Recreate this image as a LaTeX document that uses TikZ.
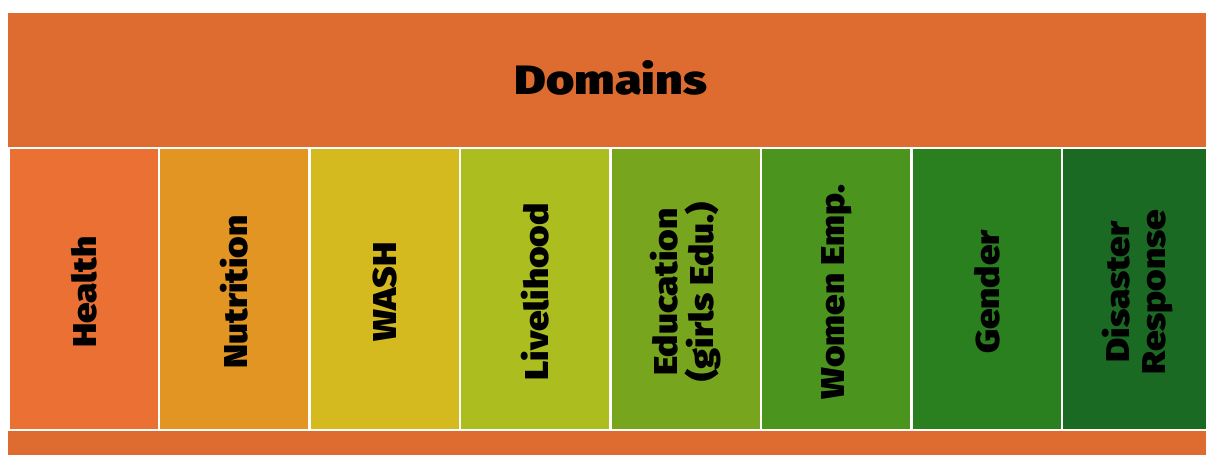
\documentclass[tikz,border=0pt]{standalone}
\usepackage{fontspec}
\setmainfont{Fira Sans}[BoldFont={Fira Sans Black}]
\newfontfamily\widefont{Fira Sans Black}[FakeStretch=1.18]
\newfontfamily\colfont{Fira Sans Black}[FakeStretch=1.12]
\definecolor{topor}{HTML}{DE6C30}
\definecolor{cA}{HTML}{EA7133}
\definecolor{cB}{HTML}{E29522}
\definecolor{cC}{HTML}{D4B91F}
\definecolor{cD}{HTML}{ACBD1F}
\definecolor{cE}{HTML}{78A51E}
\definecolor{cF}{HTML}{4B951F}
\definecolor{cG}{HTML}{2A7F1E}
\definecolor{cH}{HTML}{1B6A24}
\begin{document}
\begin{tikzpicture}[x=1pt,y=-1pt,
  col/.style={draw=white,line width=2.5pt,anchor=north west,minimum width=150.5pt,minimum height=282pt,inner sep=0pt,outer sep=0pt},
  lab/.style={rotate=90,font=\colfont\fontsize{33}{36}\selectfont,align=center,text=black}]
\useasboundingbox (0,0) rectangle (1206,455);
\fill[white] (0,0) rectangle (1206,455);
\fill[topor] (8,13) rectangle (1206,455);
\node[font=\widefont\fontsize{41}{48}\selectfont] (title) at (611,78) {Domains};
\foreach \i/\c/\t in {0/cA/Health,1/cB/Nutrition,2/cC/WASH,3/cD/Livelihood,4/cE/{Education\\(girls Edu.)},5/cF/Women Emp.,6/cG/Gender,7/cH/{Disaster\\Response}}{
  \node[col,fill=\c] (c\i) at ({8.5+150.5*\i},148) {};
  \node[lab] (t\i) at ([yshift=-3pt]c\i.center) {\t};
}
\end{tikzpicture}
\end{document}
